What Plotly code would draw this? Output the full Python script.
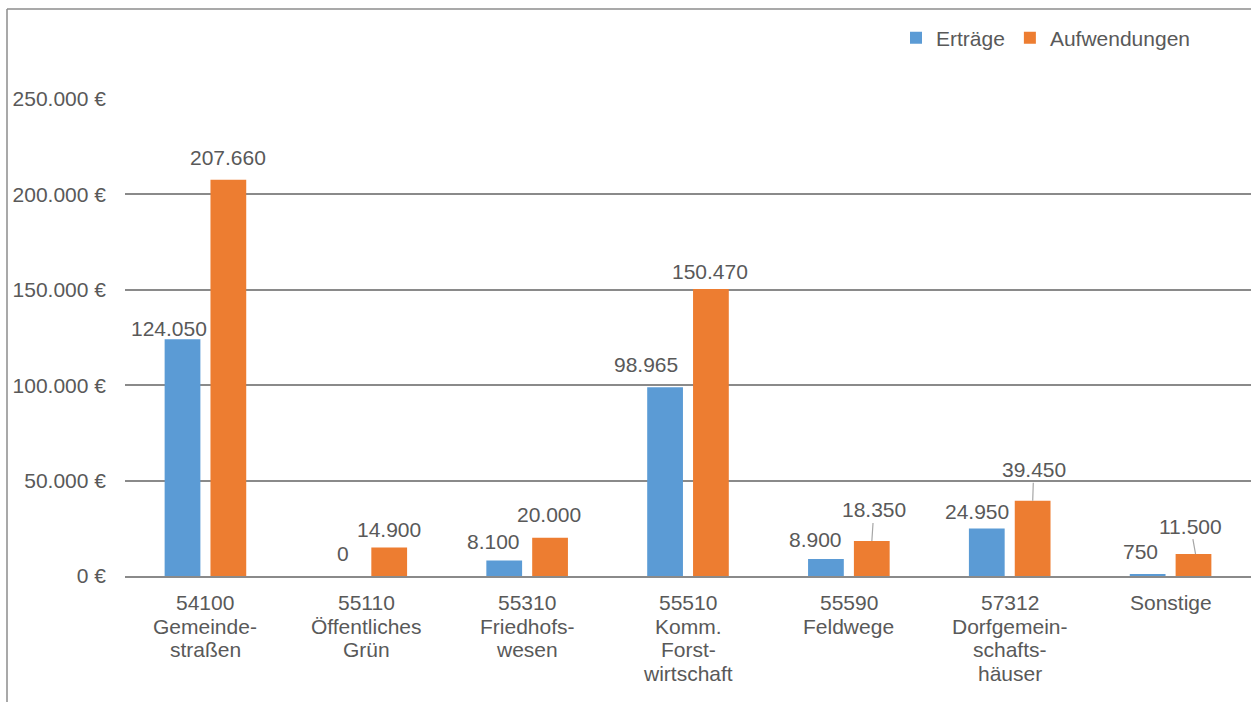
import plotly.graph_objects as go

categories = [
    "54100<br>Gemeinde-<br>straßen",
    "55110<br>Öffentliches<br>Grün",
    "55310<br>Friedhofs-<br>wesen",
    "55510<br>Komm.<br>Forst-<br>wirtschaft",
    "55590<br>Feldwege",
    "57312<br>Dorfgemein-<br>schafts-<br>häuser",
    "Sonstige",
]
ertraege = [124050, 0, 8100, 98965, 8900, 24950, 750]
aufwendungen = [207660, 14900, 20000, 150470, 18350, 39450, 11500]
y_ticks = [0, 50000, 100000, 150000, 200000, 250000]

# label placement styles (pixel offsets of label centre from bar top)
e_dx = [-13, 0, -11, -19, -10, -10, -7]
e_dy = [-11, -23, -19, -23, -20, -17, -23]
a_dx = [0, 0, -1, -1, 2, 1, -3]
a_dy = [-22, -18, -23, -17, -31, -31, -28]
a_leader = [False, False, False, False, True, True, True]
a_pt_shift = [0, 0, 0, 0, 0, 0, 2]

BLUE = "#5B9BD5"
ORANGE = "#ED7D31"
TXT = "#595959"
GRID = "#8A8A8A"
FONT = "Liberation Sans, Arial, sans-serif"
FS = 21


def fmt(v):
    return f"{v:,}".replace(",", ".")


fig = go.Figure()
fig.add_trace(go.Bar(name="Erträge", x=categories, y=ertraege, marker_color=BLUE,
                     marker_line_width=0))
fig.add_trace(go.Bar(name="Aufwendungen", x=categories, y=aufwendungen, marker_color=ORANGE,
                     marker_line_width=0))

annotations = []
for i, c in enumerate(categories):
    annotations.append(dict(
        x=c, y=ertraege[i], xref="x", yref="y", text=fmt(ertraege[i]),
        showarrow=True, arrowhead=0, arrowcolor="rgba(0,0,0,0)", arrowwidth=1,
        ax=e_dx[i], ay=e_dy[i], xshift=-23, standoff=0,
        font=dict(family=FONT, size=FS, color=TXT)))
    annotations.append(dict(
        x=c, y=aufwendungen[i], xref="x", yref="y", text=fmt(aufwendungen[i]),
        showarrow=True, arrowhead=0,
        arrowcolor="#A6A6A6" if a_leader[i] else "rgba(0,0,0,0)", arrowwidth=1.2,
        ax=a_dx[i] - a_pt_shift[i], ay=a_dy[i], xshift=23 + a_pt_shift[i], standoff=0,
        font=dict(family=FONT, size=FS, color=TXT)))
    # category label, one annotation per line for tighter line spacing
    for k, line in enumerate(c.split("<br>")):
        annotations.append(dict(
            x=c, y=0, xref="x", yref="y", text=line, showarrow=False,
            xanchor="center", yanchor="top", yshift=-13 - 23.7 * k,
            font=dict(family=FONT, size=FS, color=TXT)))

L, T, B, W, H = 125, 99, 126, 1251, 702
pw = W - L
ph = H - T - B

shapes = [
    dict(type="line", xref="paper", yref="paper",
         x0=(7 - L) / pw, x1=(7 - L) / pw, y0=(H - B - 9) / ph, y1=(H - B - 702) / ph,
         line=dict(color="#8C8C8C", width=1.5)),
    dict(type="line", xref="paper", yref="paper",
         x0=(7 - L) / pw, x1=1.0, y0=(H - B - 9) / ph, y1=(H - B - 9) / ph,
         line=dict(color="#8C8C8C", width=1.5)),
]

fig.update_layout(
    width=W, height=H,
    margin=dict(l=L, r=0, t=T, b=B, pad=0),
    barmode="group", bargap=0.43, bargroupgap=0.22,
    plot_bgcolor="white", paper_bgcolor="white",
    font=dict(family=FONT, size=FS, color=TXT),
    legend=dict(orientation="h", x=(1195 - L) / pw, xanchor="right",
                y=(H - B - 38) / ph, yanchor="middle",
                font=dict(family=FONT, size=FS, color=TXT),
                itemwidth=30, bgcolor="rgba(0,0,0,0)"),
    annotations=annotations,
    shapes=shapes,
    showlegend=True,
)
fig.update_xaxes(showline=True, linecolor=GRID, linewidth=2, ticks="",
                 showticklabels=False, showgrid=False)
fig.update_yaxes(range=[0, 250000], tickmode="array", tickvals=y_ticks,
                 ticktext=[fmt(v) + " €" for v in y_ticks],
                 showgrid=True, gridcolor=GRID, gridwidth=1.6,
                 zeroline=False, showline=False, ticks="",
                 tickfont=dict(family=FONT, size=FS, color=TXT),
                 ticklabelstandoff=18)

fig.write_html("out.html", config={"displayModeBar": False},
               post_script="document.body.style.margin='0';document.body.style.overflow='hidden';")
